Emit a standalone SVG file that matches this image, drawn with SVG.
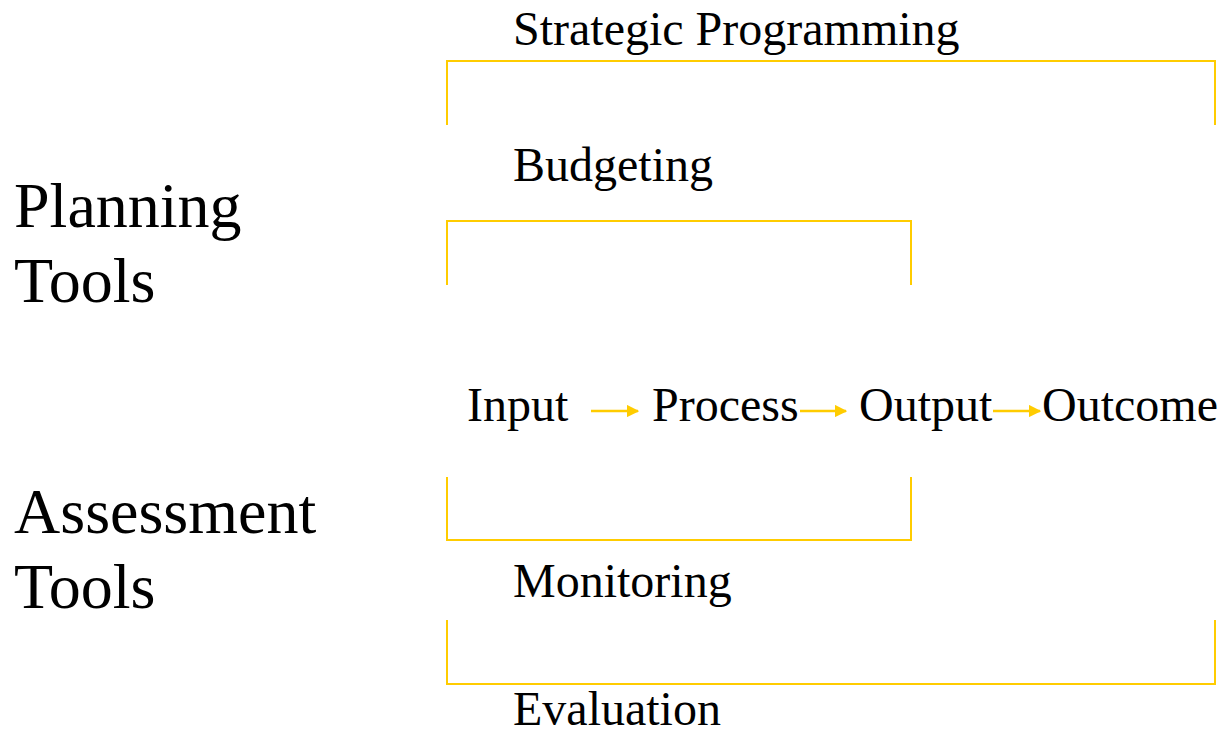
<svg xmlns="http://www.w3.org/2000/svg" width="1222" height="736" viewBox="0 0 1222 736">
<defs>
<style>
.t{font-family:"Liberation Serif","Times New Roman",serif;fill:#000}
.s{font-size:48px}
.b{font-size:64px}
.br{fill:none;stroke:#FFCC00;stroke-width:2}
.ar{stroke:#FFCC00;stroke-width:2.5;fill:none}
</style>
<marker id="ah" viewBox="0 0 10 10" refX="9" refY="5" markerWidth="5" markerHeight="5" markerUnits="strokeWidth" orient="auto">
<path d="M0,0 L10,5 L0,10 z" fill="#FFCC00"/>
</marker>
</defs>
<rect width="1222" height="736" fill="#fff"/>
<g id="planning-tools"><text class="t b" x="14" y="227">Planning</text><text class="t b" x="14" y="302">Tools</text></g>
<g id="assessment-tools"><text class="t b" x="14" y="533">Assessment</text><text class="t b" x="14" y="608">Tools</text></g>
<g id="strategic-programming"><text class="t s" x="513" y="45">Strategic Programming</text><path class="br" d="M447,125 V61 H1215 V125"/></g>
<g id="budgeting"><text class="t s" x="513" y="181">Budgeting</text><path class="br" d="M447,285 V221 H911 V285"/></g>
<g id="monitoring"><path class="br" d="M447,477 V540 H911 V477"/><text class="t s" x="513" y="597">Monitoring</text></g>
<g id="evaluation"><path class="br" d="M447,620 V684 H1215 V620"/><text class="t s" x="513" y="725">Evaluation</text></g>
<g id="input"><text class="t s" x="467" y="421">Input</text></g>
<g id="process"><text class="t s" x="652" y="421">Process</text></g>
<g id="output"><text class="t s" x="859" y="421">Output</text></g>
<g id="outcome"><text class="t s" x="1042" y="421">Outcome</text></g>
<g id="connectors">
<line class="ar" x1="591" y1="411" x2="638" y2="411" marker-end="url(#ah)"/>
<line class="ar" x1="800" y1="411" x2="846" y2="411" marker-end="url(#ah)"/>
<line class="ar" x1="993" y1="411" x2="1040" y2="411" marker-end="url(#ah)"/>
</g>
</svg>
